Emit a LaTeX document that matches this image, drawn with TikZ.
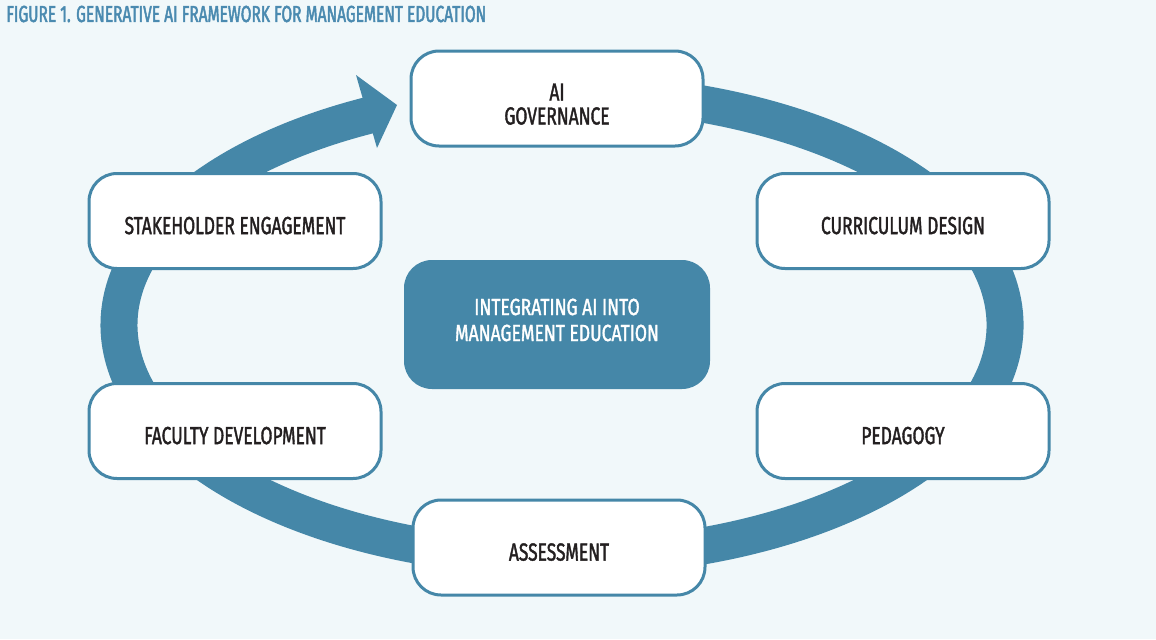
\documentclass[tikz,border=0pt]{standalone}
\usepackage{fontspec}
\setmainfont{Fira Sans}[FakeStretch=0.705, FakeBold=1.5]
\newfontfamily\titlefont{Fira Sans}[FakeStretch=0.668, FakeBold=2]
\newfontfamily\hubfont{Fira Sans}[FakeStretch=0.75, FakeBold=1.5]
\definecolor{bgc}{HTML}{F1F8FA}
\definecolor{ringc}{HTML}{4587A8}
\definecolor{titlec}{HTML}{4A8AB0}
\definecolor{txtc}{HTML}{231F20}
\tikzset{
  box/.style={draw=ringc, line width=2.25pt, fill=white, rounded corners=21pt,
    minimum width=219pt, minimum height=71.25pt, align=center, text=txtc,
    font=\fontsize{18.5}{18}\selectfont, inner sep=0pt,
    text height=19.6pt, text depth=0pt},
  box2/.style={box, text height=39pt},
  hub/.style={fill=ringc, rounded corners=21pt, minimum width=229.5pt,
    minimum height=96.75pt, align=center, text=white,
    font=\hubfont\fontsize{17.5}{19.5}\selectfont, inner sep=0pt,
    text height=24.8pt, text depth=0pt},
  ringline/.style={draw=ringc, line width=27.75pt}
}
\begin{document}
\begin{tikzpicture}[x=0.75pt,y=-0.75pt]
\fill[bgc] (0,0) rectangle (1156,639);
\useasboundingbox (0,0) rectangle (1156,639);
% title
\node[anchor=west, inner sep=0pt, text=titlec, font=\titlefont\fontsize{17.4}{18}\selectfont] (title) at (6,14) {FIGURE 1. GENERATIVE AI FRAMEWORK FOR MANAGEMENT EDUCATION};
% ring
\draw[ringline] ({562+443*cos(-100)},{325+233*sin(-100)}) arc[start angle=-460, end angle=-115, x radius=443, y radius=233];
\fill[ringc] (356,75) -- (397,105) -- (377,148) -- cycle;
% nodes
\node[box2] (gov) at (557,98.5) {AI\\GOVERNANCE};
\node[box] (cur) at (903,221) {CURRICULUM DESIGN};
\node[box] (ped) at (903,431) {PEDAGOGY};
\node[box] (ass) at (559,547.5) {ASSESSMENT};
\node[box] (fac) at (235,431) {FACULTY DEVELOPMENT};
\node[box] (sta) at (235,221) {STAKEHOLDER ENGAGEMENT};
\node[hub] (hub) at (557,324.5) {INTEGRATING AI INTO\\MANAGEMENT EDUCATION};
\end{tikzpicture}
\end{document}
